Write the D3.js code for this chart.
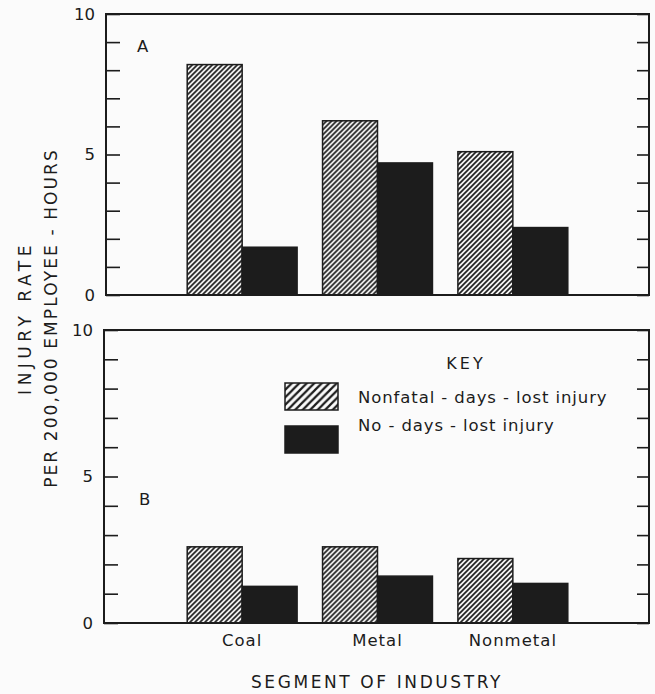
<!DOCTYPE html>
<html><head><meta charset="utf-8">
<script src="https://cdn.jsdelivr.net/npm/d3@7"></script>
<style>
html,body{margin:0;padding:0;background:#fbfbfb;}
svg{display:block;font-family:"DejaVu Sans",sans-serif;}
</style></head>
<body><svg id="chart" width="655" height="694"></svg>
<script>
const categories = ["Coal", "Metal", "Nonmetal"];
const seriesKeys = ["nonfatal", "nodays"];
const seriesLabels = ["Nonfatal - days - lost injury", "No - days - lost injury"];
const panelANonfatal = [8.2, 6.2, 5.1];
const panelANoDays = [1.7, 4.7, 2.4];
const panelBNonfatal = [2.6, 2.6, 2.2];
const panelBNoDays = [1.25, 1.6, 1.35];
const yTicks = [0,1,2,3,4,5,6,7,8,9,10];
const yTickLabels = {0:"0", 5:"5", 10:"10"};
const xTitle = "SEGMENT OF INDUSTRY";
const yTitle = ["INJURY RATE", "PER 200,000 EMPLOYEE - HOURS"];

const ink = "#1c1c1c";
const svg = d3.select("#chart");
const defs = svg.append("defs");
function hatch(id, size, sw){
  const p = defs.append("pattern").attr("id", id).attr("patternUnits","userSpaceOnUse")
    .attr("width", size).attr("height", size);
  p.append("rect").attr("width", size).attr("height", size).attr("fill", "#fbfbfb");
  p.append("path").attr("d", `M0,${size} L${size},0 M${-size/2},${size/2} L${size/2},${-size/2} M${size/2},${size*1.5} L${size*1.5},${size/2}`)
    .attr("stroke", ink).attr("stroke-width", sw);
}
hatch("hatchBar", 5, 1.7);
hatch("hatchKey", 7.5, 2.2);

const fills = {nonfatal: "url(#hatchBar)", nodays: ink};

const right = 649;
const panels = [
  {name:"A", left:106, top:14, bottom:295, data:[panelANonfatal, panelANoDays], labelPos:[137, 52]},
  {name:"B", left:104, top:330, bottom:623, data:[panelBNonfatal, panelBNoDays], labelPos:[139, 505]}
];

const x0 = d3.scaleBand().domain(categories).range([106, right]).paddingInner(0.188).paddingOuter(0.6);
const x1 = d3.scaleBand().domain(seriesKeys).range([0, x0.bandwidth()]);

panels.forEach(p => {
  const y = d3.scaleLinear().domain([0, 10]).range([p.bottom, p.top]);
  const g = svg.append("g");
  const rows = categories.map((c, i) => ({cat:c, vals: seriesKeys.map((k, j) => ({key:k, v:p.data[j][i]}))}));
  g.selectAll("g.grp").data(rows).join("g").attr("class","grp")
    .attr("transform", d => `translate(${x0(d.cat)},0)`)
    .selectAll("rect").data(d => d.vals).join("rect")
    .attr("x", d => x1(d.key)).attr("width", x1.bandwidth())
    .attr("y", d => y(d.v)).attr("height", d => y(0) - y(d.v))
    .attr("fill", d => fills[d.key]).attr("stroke", ink).attr("stroke-width", 1.5);

  const la = g.append("g").attr("transform", `translate(${p.left},0)`)
    .call(d3.axisLeft(y).tickValues(yTicks).tickSize(-14).tickPadding(11)
      .tickFormat(d => yTickLabels[d] || ""));
  la.select(".domain").remove();
  la.selectAll("line").attr("stroke", ink).attr("stroke-width", 1.6);
  la.selectAll("text").attr("font-size", 16.5).attr("fill", ink).attr("font-family", "DejaVu Sans, sans-serif");

  const ra = g.append("g").attr("transform", `translate(${right},0)`)
    .call(d3.axisRight(y).tickValues(yTicks).tickSize(-12).tickFormat(""));
  ra.select(".domain").remove();
  ra.selectAll("line").attr("stroke", ink).attr("stroke-width", 1.6);

  g.append("rect").attr("x", p.left).attr("y", p.top).attr("width", right - p.left)
    .attr("height", p.bottom - p.top).attr("fill", "none").attr("stroke", ink).attr("stroke-width", 2);

  g.append("text").attr("x", p.labelPos[0]).attr("y", p.labelPos[1]).text(p.name)
    .attr("font-size", 16.5).attr("fill", ink);
});

// x labels
svg.append("g").selectAll("text").data(categories).join("text")
  .attr("x", d => x0(d) + x0.bandwidth()/2).attr("y", 646)
  .attr("text-anchor", "middle").attr("font-size", 16.5).attr("letter-spacing", 1).attr("fill", ink).text(d => d);
svg.append("text").attr("x", 377).attr("y", 688).attr("text-anchor","middle")
  .attr("font-size", 17).attr("letter-spacing", 2.6).attr("fill", ink).text(xTitle);

// y title
const yt = svg.append("text").attr("transform", "translate(0,318) rotate(-90)")
  .attr("text-anchor", "middle").attr("font-size", 17).attr("fill", ink);
yt.append("tspan").attr("x", 0).attr("y", 31).attr("letter-spacing", 4.5).text(yTitle[0]);
yt.append("tspan").attr("x", 0).attr("y", 57).attr("letter-spacing", 2.1).text(yTitle[1]);

// legend
const leg = svg.append("g");
leg.append("text").attr("x", 466).attr("y", 369).attr("text-anchor","middle")
  .attr("font-size", 16).attr("letter-spacing", 3).attr("fill", ink).text("KEY");
const legRows = seriesKeys.map((k, i) => ({key:k, label:seriesLabels[i], i}));
leg.selectAll("rect").data(legRows).join("rect")
  .attr("x", 285).attr("y", d => 383 + d.i * 43).attr("width", 53).attr("height", 27)
  .attr("fill", d => d.key === "nonfatal" ? "url(#hatchKey)" : ink)
  .attr("stroke", ink).attr("stroke-width", 1.5);
leg.selectAll("text.l").data(legRows).join("text").attr("class","l")
  .attr("x", 358).attr("y", d => 403 + d.i * 28).attr("font-size", 16.5).attr("letter-spacing", 0.9).attr("fill", ink)
  .text(d => d.label);
</script></body></html>
